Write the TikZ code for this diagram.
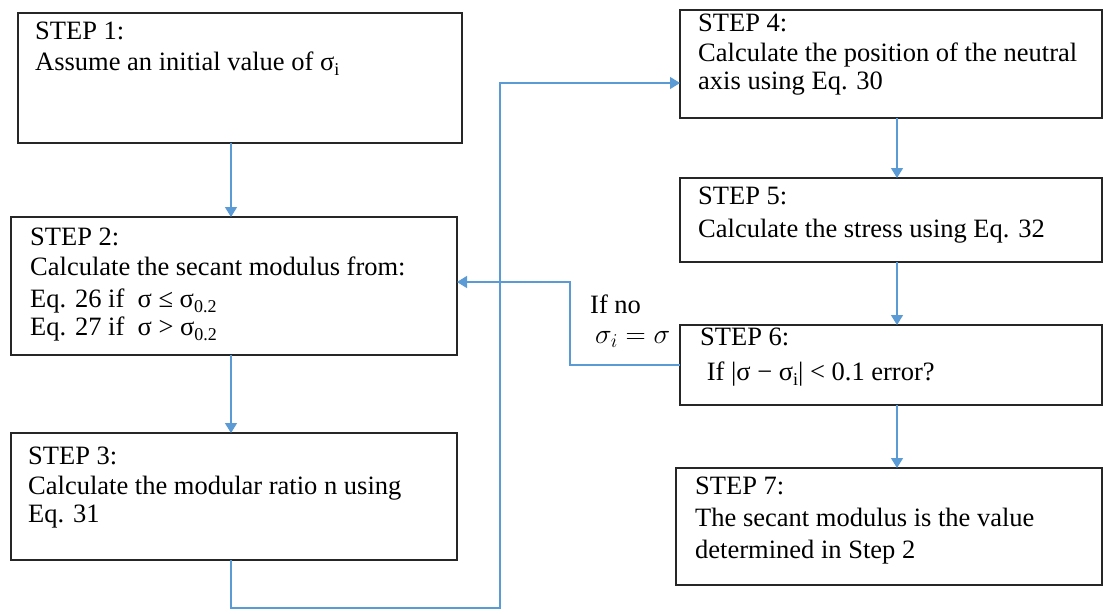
\documentclass[tikz,border=0pt]{standalone}
\usepackage{fix-cm}
\usepackage{fontspec}
\setmainfont{Liberation Serif}
\usetikzlibrary{arrows.meta,calc}
\definecolor{connblue}{RGB}{91,155,213}
\newcommand{\lowsub}[1]{\raisebox{-5pt}{\fontsize{18}{18}\selectfont #1}}
\begin{document}
\begin{tikzpicture}[x=1pt,y=-1pt,
  box/.style={draw=black!85, line width=1.4pt, inner sep=0pt, outer sep=0pt},
  txt/.style={anchor=north west, inner sep=0pt, align=left, font=\fontsize{26.5}{30}\selectfont},
  conn/.style={draw=connblue, line width=1.3pt},
  arr/.style={conn, -{Triangle[width=12pt,length=10pt]}}]
\useasboundingbox (0,0) rectangle (1116,613);
% boxes
\node[box, minimum width=444pt, minimum height=130pt] (b1) at (240,78) {};
\node[box, minimum width=446pt, minimum height=138pt] (b2) at (234,286) {};
\node[box, minimum width=446pt, minimum height=127pt] (b3) at (234,496.5) {};
\node[box, minimum width=422pt, minimum height=108pt] (b4) at (891,64) {};
\node[box, minimum width=422pt, minimum height=84pt] (b5) at (891,220) {};
\node[box, minimum width=422pt, minimum height=80pt] (b6) at (891,365) {};
\node[box, minimum width=426pt, minimum height=117pt] (b7) at (889,526.5) {};
% texts
\node[txt] (t1) at (35,22) {STEP 1:\\[1pt]Assume an initial value of σ\lowsub{i}};
\node[txt] (t2) at (30,228) {STEP 2:\\Calculate the secant modulus from:\\[2pt]Eq. 26 if \ σ ≤ σ\lowsub{0.2}\\[-2pt]Eq. 27 if \ σ > σ\lowsub{0.2}};
\node[txt] (t3) at (28,447) {STEP 3:\\Calculate the modular ratio n using\\[-2pt]Eq. 31};
\node[txt] (t4) at (698,14) {STEP 4:\\Calculate the position of the neutral\\[-2pt]axis using Eq. 30};
\node[txt] (t5) at (698,187) {STEP 5:\\[3pt]Calculate the stress using Eq. 32};
\node[txt] (t6) at (700,328) {STEP 6:\\[5pt]\ If |σ − σ\lowsub{i}| < 0.1 error?};
\node[txt] (t7) at (695,477) {STEP 7:\\[2pt]The secant modulus is the value\\[2pt]determined in Step 2};
% labels
\node[txt] (l1) at (590,295) {If no};
\node[txt, font=\fontsize{28}{30}\selectfont] (l2) at (595,331) {$\sigma_i = \sigma$};
% connectors
\coordinate (cx) at (231,0);
\coordinate (rx) at (897,0);
\coordinate (k1) at (500,608);
\coordinate (k2) at (570,282);
\coordinate (p4) at ($(b4.west)+(0,19)$);
\draw[arr] (cx |- b1.south) -- (cx |- b2.north);
\draw[arr] (cx |- b2.south) -- (cx |- b3.north);
\draw[arr] (cx |- b3.south) |- (k1) |- (p4);
\draw[arr] (rx |- b4.south) -- (rx |- b5.north);
\draw[arr] (rx |- b5.south) -- (rx |- b6.north);
\draw[arr] (rx |- b6.south) -- (rx |- b7.north);
\draw[arr] (b6.west) -| (k2) -- (b2.east |- k2);
\end{tikzpicture}
\end{document}
